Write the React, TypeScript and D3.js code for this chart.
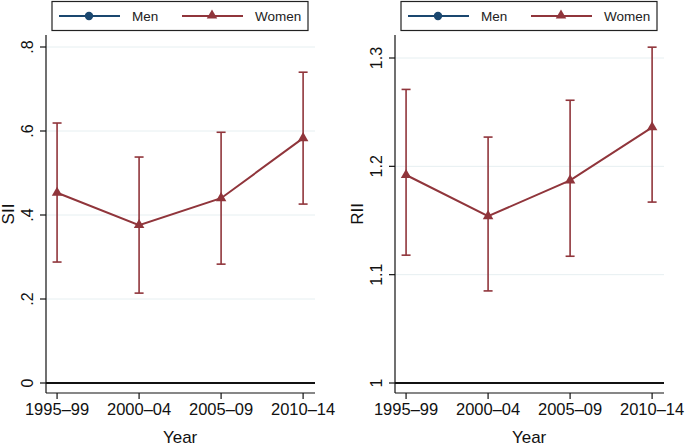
import React from 'react';
import * as d3 from 'd3';

const periods = ['1995–99', '2000–04', '2005–09', '2010–14'];

const siiWomen = [0.453, 0.376, 0.44, 0.583];
const siiWomenLo = [0.288, 0.214, 0.283, 0.426];
const siiWomenHi = [0.619, 0.538, 0.597, 0.74];

const riiWomen = [1.192, 1.154, 1.187, 1.236];
const riiWomenLo = [1.118, 1.085, 1.117, 1.167];
const riiWomenHi = [1.271, 1.227, 1.261, 1.31];

const siiTicks = [0, 0.2, 0.4, 0.6, 0.8];
const siiTickLabels = ['0', '.2', '.4', '.6', '.8'];
const riiTicks = [1, 1.1, 1.2, 1.3];
const riiTickLabels = ['1', '1.1', '1.2', '1.3'];

const seriesNames = ['Men', 'Women'];
const MEN = '#1a476f';
const WOMEN = '#90353b';
const GRID = '#e6eff1';
const FONT = '"Liberation Sans", Arial, Helvetica, sans-serif';

interface PanelProps {
  left: number;
  title: string;
  ticks: number[];
  tickLabels: string[];
  base: number;
  top: number;
  topPx: number;
  est: number[];
  lo: number[];
  hi: number[];
}

const Panel: React.FC<PanelProps> = ({ left, title, ticks, tickLabels, base, top, topPx, est, lo, hi }) => {
  const plotTop = 35;
  const plotBottom = 393;
  const plotW = 269;
  const right = left + plotW;

  const y = d3.scaleLinear().domain([base, top]).range([383, topPx]);
  const x = d3.scaleLinear().domain([-0.135, 3.145]).range([left, right]);

  const line = d3
    .line<number>()
    .x((_, i) => x(i))
    .y(d => y(d));
  const tri = d3.symbol(d3.symbolTriangle, 48)();
  const midY = (plotTop + plotBottom) / 2;

  const lx = left + 6;
  return (
    <g>
      {/* legend */}
      <rect x={lx} y={1.5} width={256} height={29} fill="white" stroke="#222" strokeWidth={1.2} />
      <line x1={lx + 7} x2={lx + 68} y1={16} y2={16} stroke={MEN} strokeWidth={2} />
      <circle cx={lx + 37} cy={16} r={4.2} fill={MEN} />
      <text x={lx + 80} y={21} fontSize={13.5} fontFamily={FONT} fill="#222">{seriesNames[0]}</text>
      <line x1={lx + 130} x2={lx + 191} y1={16} y2={16} stroke={WOMEN} strokeWidth={2} />
      <path d={tri!} transform={`translate(${lx + 160},15.5)`} fill={WOMEN} />
      <text x={lx + 203} y={21} fontSize={13.5} fontFamily={FONT} fill="#222">{seriesNames[1]}</text>

      {/* grid */}
      {ticks.slice(1).map(t => (
        <line key={t} x1={left} x2={right} y1={y(t)} y2={y(t)} stroke={GRID} strokeWidth={1} />
      ))}
      {/* reference line at base */}
      <line x1={left} x2={right} y1={y(base)} y2={y(base)} stroke="#111" strokeWidth={1.8} />

      {/* y axis */}
      <line x1={left} x2={left} y1={plotTop} y2={plotBottom} stroke="#111" strokeWidth={1.2} />
      {ticks.map((t, i) => (
        <g key={t} transform={`translate(${left},${y(t)})`}>
          <line x1={-6} x2={0} stroke="#111" strokeWidth={1.2} />
          <text
            transform="translate(-13,0) rotate(-90)"
            textAnchor="middle"
            fontSize={16}
            fontFamily={FONT}
            fill="#111"
          >
            {tickLabels[i]}
          </text>
        </g>
      ))}
      <text
        transform={`translate(${left - 32},${midY}) rotate(-90)`}
        textAnchor="middle"
        fontSize={17}
        fontFamily={FONT}
        fill="#111"
      >
        {title}
      </text>

      {/* x axis */}
      <line x1={left} x2={right} y1={plotBottom} y2={plotBottom} stroke="#111" strokeWidth={1.2} />
      {periods.map((p, i) => (
        <g key={p} transform={`translate(${x(i)},${plotBottom})`}>
          <line y1={0} y2={6} stroke="#111" strokeWidth={1.2} />
          <text y={22} textAnchor="middle" fontSize={16.5} fontFamily={FONT} fill="#111">
            {p}
          </text>
        </g>
      ))}
      <text x={x(1.5)} y={443} textAnchor="middle" fontSize={17} fontFamily={FONT} fill="#111">
        Year
      </text>

      {/* error bars */}
      {est.map((_, i) => (
        <g key={i} stroke={WOMEN} strokeWidth={1.6}>
          <line x1={x(i)} x2={x(i)} y1={y(lo[i])} y2={y(hi[i])} />
          <line x1={x(i) - 4.5} x2={x(i) + 4.5} y1={y(lo[i])} y2={y(lo[i])} />
          <line x1={x(i) - 4.5} x2={x(i) + 4.5} y1={y(hi[i])} y2={y(hi[i])} />
        </g>
      ))}
      {/* women series */}
      <path d={line(est)!} fill="none" stroke={WOMEN} strokeWidth={2} />
      {est.map((v, i) => (
        <path key={i} d={tri!} transform={`translate(${x(i)},${y(v)})`} fill={WOMEN} />
      ))}
    </g>
  );
};

export default function App() {
  return (
    <svg
      width={685}
      height={447}
      style={{ position: 'absolute', left: 0, top: 0, background: 'white' }}
    >
      <rect width={685} height={447} fill="white" />
      <Panel
        left={46}
        title="SII"
        ticks={siiTicks}
        tickLabels={siiTickLabels}
        base={0}
        top={0.8}
        topPx={47}
        est={siiWomen}
        lo={siiWomenLo}
        hi={siiWomenHi}
      />
      <Panel
        left={395}
        title="RII"
        ticks={riiTicks}
        tickLabels={riiTickLabels}
        base={1}
        top={1.3}
        topPx={58}
        est={riiWomen}
        lo={riiWomenLo}
        hi={riiWomenHi}
      />
    </svg>
  );
}
